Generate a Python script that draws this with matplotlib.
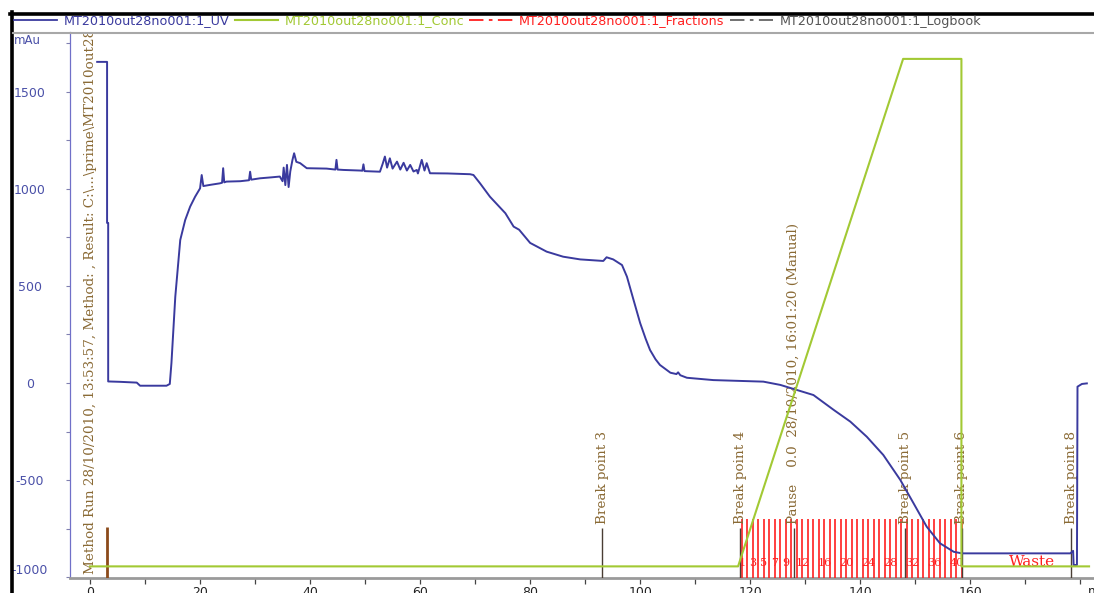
import matplotlib
matplotlib.use("Agg")
import matplotlib.pyplot as plt
from matplotlib.lines import Line2D

# ---------------- data ----------------
uv_x = [1.3, 3.1, 3.1, 3.3, 3.3, 5.5, 8.5, 9.1, 13.9, 14.5, 14.8, 15.5, 16.4, 17.3, 18.2, 19.1,
        20.0, 20.3, 20.6, 21.8, 23.6, 24.0, 24.2, 24.4, 24.8, 27.3, 28.9, 29.1, 29.3, 30.9, 33.0,
        34.5, 35.0, 35.2, 35.5, 35.8, 36.1, 36.4, 36.8, 37.1, 37.5, 38.2, 39.4, 43.0, 44.6, 44.8,
        45.0, 46.1, 49.1, 49.5, 49.7, 49.9, 52.7, 53.2, 53.6, 54.0, 54.5, 55.0, 55.8, 56.4, 57.0,
        57.6, 58.2, 58.8, 59.4, 59.6, 60.3, 60.8, 61.2, 61.8, 65.0, 69.1, 69.7, 70.9, 72.7, 75.5,
        77.0, 78.0, 80.0, 83.0, 86.0, 89.1, 93.3, 93.9, 95.1, 96.7, 97.6, 98.8, 100.0, 101.0,
        101.8, 102.8, 103.6, 105.5, 106.6, 106.9, 107.3, 108.5, 113.3, 122.4, 125.5, 128.5,
        131.5, 135.2, 138.2, 141.2, 144.2, 147.3, 149.7, 152.1, 154.5, 157.0, 158.5, 178.2,
        178.7, 178.8, 179.4, 179.5, 180.3, 181.2]
uv_y = [1655, 1655, 825, 825, 8, 6, 2, -14, -14, -5, 103, 445, 737, 840, 909, 960,
        1003, 1072, 1015, 1021, 1029, 1032, 1107, 1034, 1038, 1040, 1045, 1089, 1048, 1055, 1060,
        1064, 1040, 1110, 1020, 1124, 1010, 1090, 1150, 1184, 1140, 1133, 1107, 1105, 1100, 1150,
        1100, 1098, 1095, 1094, 1127, 1092, 1089, 1130, 1167, 1110, 1158, 1105, 1141, 1100, 1135,
        1095, 1124, 1090, 1098, 1080, 1150, 1095, 1133, 1081, 1080, 1076, 1072, 1029, 960, 875,
        806, 790, 722, 677, 651, 637, 629, 648, 637, 608, 548, 428, 309, 228,
        170, 122, 93, 53, 46, 55, 40, 27, 15, 7, -10, -36,
        -62, -139, -199, -277, -371, -500, -620, -741, -826, -870, -878, -878,
        -865, -938, -938, -19, -5, -2]

conc_x = [0.0, 117.8, 147.8, 158.4, 158.4, 181.6]
conc_pct = [0, 0, 100, 100, 0, 0]

frac_x = [118.5, 119.5, 120.5, 121.5, 122.5, 123.5, 124.5, 125.5, 126.5, 127.5, 128.5,
          129.5, 130.5, 131.5, 132.5, 133.5, 134.5, 135.5, 136.5, 137.5, 138.5, 139.5,
          140.5, 141.5, 142.5, 143.5, 144.5, 145.5, 146.5, 147.5, 148.5, 149.5, 150.5,
          151.5, 152.5, 153.5, 154.5, 155.5, 156.5, 157.5, 158.5]
frac_labels = ["1", "3", "5", "7", "9", "12", "16", "20", "24", "28", "32", "36", "40"]
waste_x = 171.2

log_line_x = [3.1, 93.1, 118.2, 127.9, 148.2, 158.5, 178.4]
log_text_x = [0.0, 93.1, 118.2, 127.9, 148.2, 158.5, 178.4]
log_texts = ["Method Run 28/10/2010, 13:53:57, Method: , Result: C:\\...\\prime\\MT2010out28no001",
             "Break point 3", "Break point 4",
             "Pause    0.0  28/10/2010, 16:01:20 (Manual)",
             "Break point 5", "Break point 6", "Break point 8"]

y_ticks = [-1000, -500, 0, 500, 1000, 1500]
y_ticklabels = ["-1000", "-500", "0", "500", "1000", "1500"]
x_ticks = [0, 20, 40, 60, 80, 100, 120, 140, 160, 180]
x_ticklabels = ["0", "20", "40", "60", "80", "100", "120", "140", "160", ""]

series_names = ["MT2010out28no001:1_UV", "MT2010out28no001:1_Conc",
                "MT2010out28no001:1_Fractions", "MT2010out28no001:1_Logbook"]

# ---------------- style ----------------
UV_C = "#3a3a9e"
CONC_C = "#a2c934"
FRAC_C = "#ff1f1f"
LOGT_C = "#8a6a35"
LOGL_C = "#4a3e34"
TICK_C = "#4a50a8"

W, H = 1094, 593
fig = plt.figure(figsize=(W / 100, H / 100), dpi=100)
fig.patch.set_facecolor("white")
ax = fig.add_axes([70 / W, 1 - 578 / H, 1 - 70 / W, (578 - 32) / H])
ax.set_xlim(-3.64, 182.5)
ax.set_ylim(-1005, 1809)

for s in ("top", "right"):
    ax.spines[s].set_visible(False)
ax.spines["left"].set_color("#7070c8")
ax.spines["left"].set_linewidth(0.9)
ax.spines["bottom"].set_color("#9a9a9a")
ax.spines["bottom"].set_linewidth(2.0)

ax.set_yticks(y_ticks)
ax.set_yticklabels(y_ticklabels, fontsize=9, color=TICK_C, ha="center")
ax.get_yticklabels()[0].set_va("bottom")
ax.set_yticks(range(-750, 1800, 500), minor=True)
ax.tick_params(axis="y", which="both", direction="out", length=3, width=0.8,
               color="#8080b0", pad=26)
ax.set_xticks(x_ticks)
ax.set_xticklabels(x_ticklabels, fontsize=9, color="#222222")
ax.set_xticks(range(10, 190, 20), minor=True)
ax.tick_params(axis="x", which="both", direction="out", length=4, width=0.9,
               color="#444444", pad=1.5)

ax.text(-0.055, 0.985, "mAu", transform=ax.transAxes, fontsize=8.5, color=TICK_C,
        ha="left", va="center", clip_on=False)
ax.text(0.994, -0.012, "ml", transform=ax.transAxes, fontsize=9, color="#222222",
        ha="left", va="top", clip_on=False)

# conc on its own (hidden) percent axis
ax2 = ax.twinx()
ax2.set_ylim(-2.29, 105.3)
ax2.set_axis_off()
ax2.plot(conc_x, conc_pct, color=CONC_C, lw=1.5, zorder=2)

# fractions
ax.vlines(frac_x, -700, -1005, colors=FRAC_C, lw=1.2, zorder=3)
for lab in frac_labels:
    ax.text(frac_x[int(lab) - 1], -930, lab, color=FRAC_C, fontsize=8,
            family="DejaVu Serif", ha="center", va="center", zorder=4)
ax.text(waste_x, -925, "Waste", color=FRAC_C, fontsize=11, family="DejaVu Serif",
        ha="center", va="center", zorder=4)

# logbook
ax.vlines(log_line_x[1:], -745, -1005, colors=LOGL_C, lw=1.0, zorder=4)
ax.vlines([log_line_x[0]], -740, -1005, colors="#8b4a1a", lw=2.0, zorder=4)
for i, (lx, t) in enumerate(zip(log_text_x, log_texts)):
    yb = -985 if i == 0 else -725
    ax.text(lx, yb, t, rotation=90, ha="center", va="bottom", fontsize=9.7,
            family="DejaVu Serif", color=LOGT_C, clip_on=True, zorder=5)

# UV
ax.plot(uv_x, uv_y, color=UV_C, lw=1.4, zorder=6)

# frame decorations
fig.add_artist(Line2D([10 / W, 1], [1 - 13.5 / H] * 2, transform=fig.transFigure,
                      color="black", lw=2.6))
fig.add_artist(Line2D([11.5 / W] * 2, [0, 1 - 12 / H], transform=fig.transFigure,
                      color="black", lw=2.6))
fig.add_artist(Line2D([13 / W, 1], [1 - 32.5 / H] * 2, transform=fig.transFigure,
                      color="#a8a8a8", lw=1.5))

# legend
handles = [Line2D([], [], color=UV_C, lw=1.3),
           Line2D([], [], color=CONC_C, lw=1.5),
           Line2D([], [], color=FRAC_C, lw=1.3, dashes=(8, 3, 2, 3)),
           Line2D([], [], color="#666666", lw=1.3, dashes=(8, 3, 2, 3))]
leg = fig.legend(handles, series_names, loc="center left",
                 bbox_to_anchor=(14 / W, 1 - 21 / H), ncol=4, frameon=False,
                 fontsize=9.2, handlelength=3.4, handletextpad=0.5, columnspacing=0.4,
                 borderpad=0, borderaxespad=0)
for txt, c in zip(leg.get_texts(), [UV_C, CONC_C, FRAC_C, "#555555"]):
    txt.set_color(c)

fig.savefig("out.png", dpi=100, facecolor="white")
